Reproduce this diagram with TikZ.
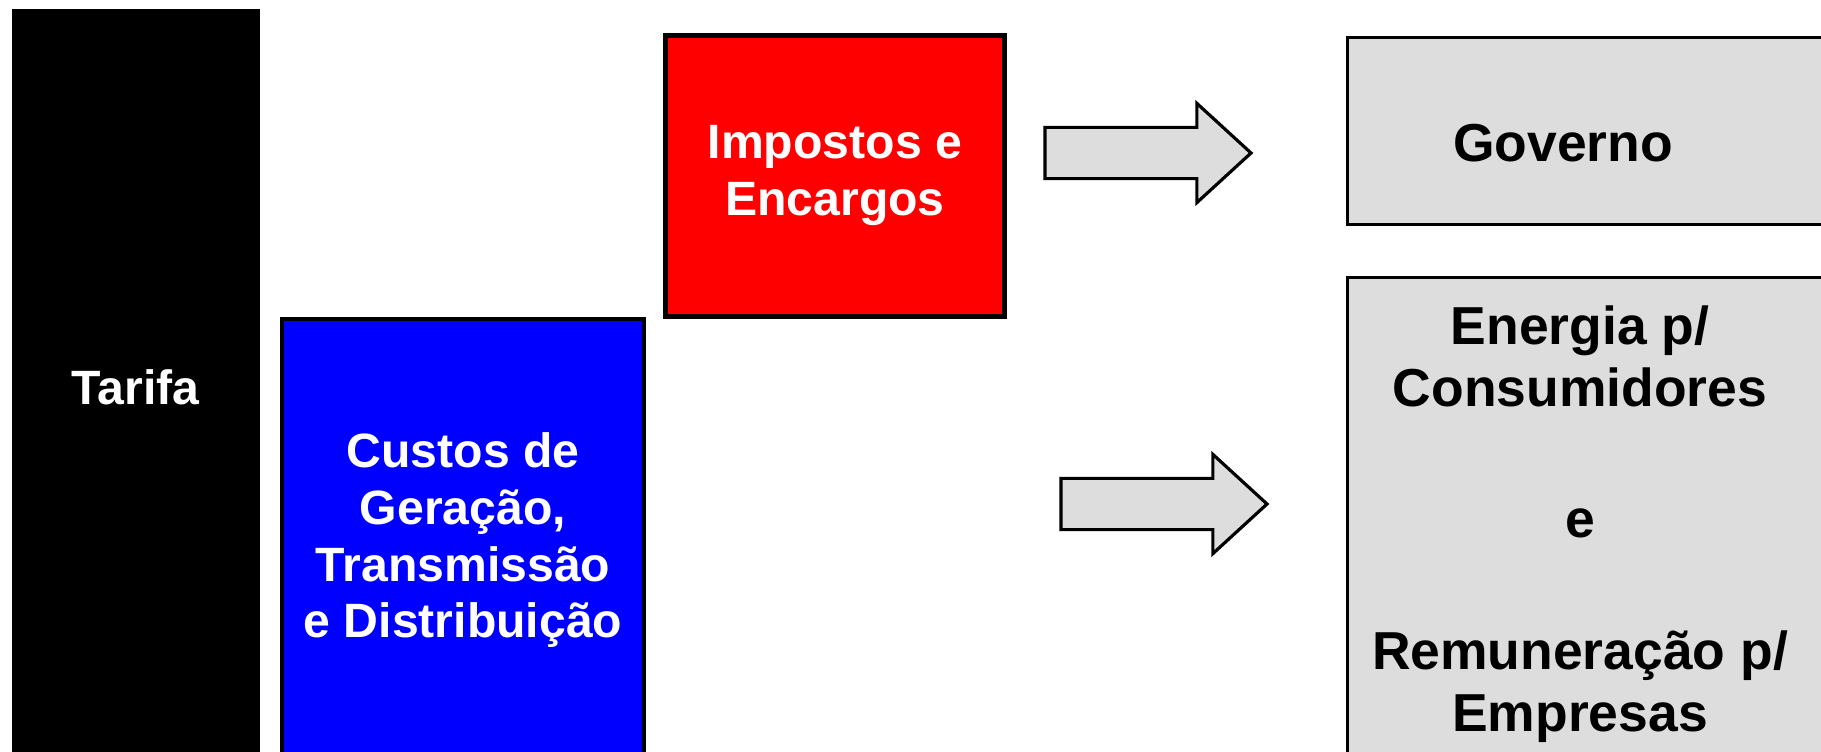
\documentclass[tikz,border=0pt]{standalone}
\usepackage{fontspec}
\setmainfont{Liberation Sans}
\usetikzlibrary{shapes.arrows,positioning}
\definecolor{cinza}{HTML}{DDDDDD}

\begin{document}
\begin{tikzpicture}[x=0.01cm,y=-0.01cm]
  \tikzset{box/.style = {shape=rectangle,draw=black,inner sep=0pt,anchor=north west,align=center}}
  \tikzset{lefttext/.style = {font=\bfseries\fontsize{13.7}{16.2}\selectfont}}
  \tikzset{righttext/.style = {font=\bfseries\fontsize{15.2}{17.8}\selectfont,align=center}}
  \tikzset{bigarrow/.style = {single arrow,draw=black,fill=cinza,line width=0.9pt,
      minimum height=2.06cm,inner xsep=0pt,inner ysep=0.24cm,
      single arrow head extend=0.24cm,single arrow tip angle=85}}

  \useasboundingbox (0,0) rectangle (1821,751);
  \clip (0,0) rectangle (1821,751);

  \node[box,fill=black,line width=0.4pt,minimum width=2.46cm,minimum height=7.54cm,
    lefttext,text=white] (tarifa) at (12,9) {Tarifa};
  \node[box,fill=blue,line width=1.1pt,minimum width=3.62cm,minimum height=4.42cm,
    lefttext,text=white] (custos) at (280,317)
    {Custos de\\Geração,\\Transmissão\\e Distribuição};
  \node[box,fill=red,line width=1.3pt,minimum width=3.39cm,minimum height=2.81cm,
    lefttext,text=white] (impostos) at (663,33) {Impostos e\\Encargos};

  \node[box,fill=cinza,line width=0.9pt,minimum width=5cm,minimum height=1.87cm] (governo) at (1346,36) {};
  \node[righttext] (govtext) at (1563,143) {Governo};
  \node[box,fill=cinza,line width=0.9pt,minimum width=5cm,minimum height=5cm] (energia) at (1346,276) {};
  \node[righttext] (energiatext) at (1580,524)
    {Energia p/\\Consumidores\\[19.5pt]e\\[19.5pt]Remuneração p/\\Empresas};

  \node[bigarrow] (seta1) at (1134,153) {};
  \node[bigarrow] (seta2) at (1150,504) {};
\end{tikzpicture}
\end{document}
